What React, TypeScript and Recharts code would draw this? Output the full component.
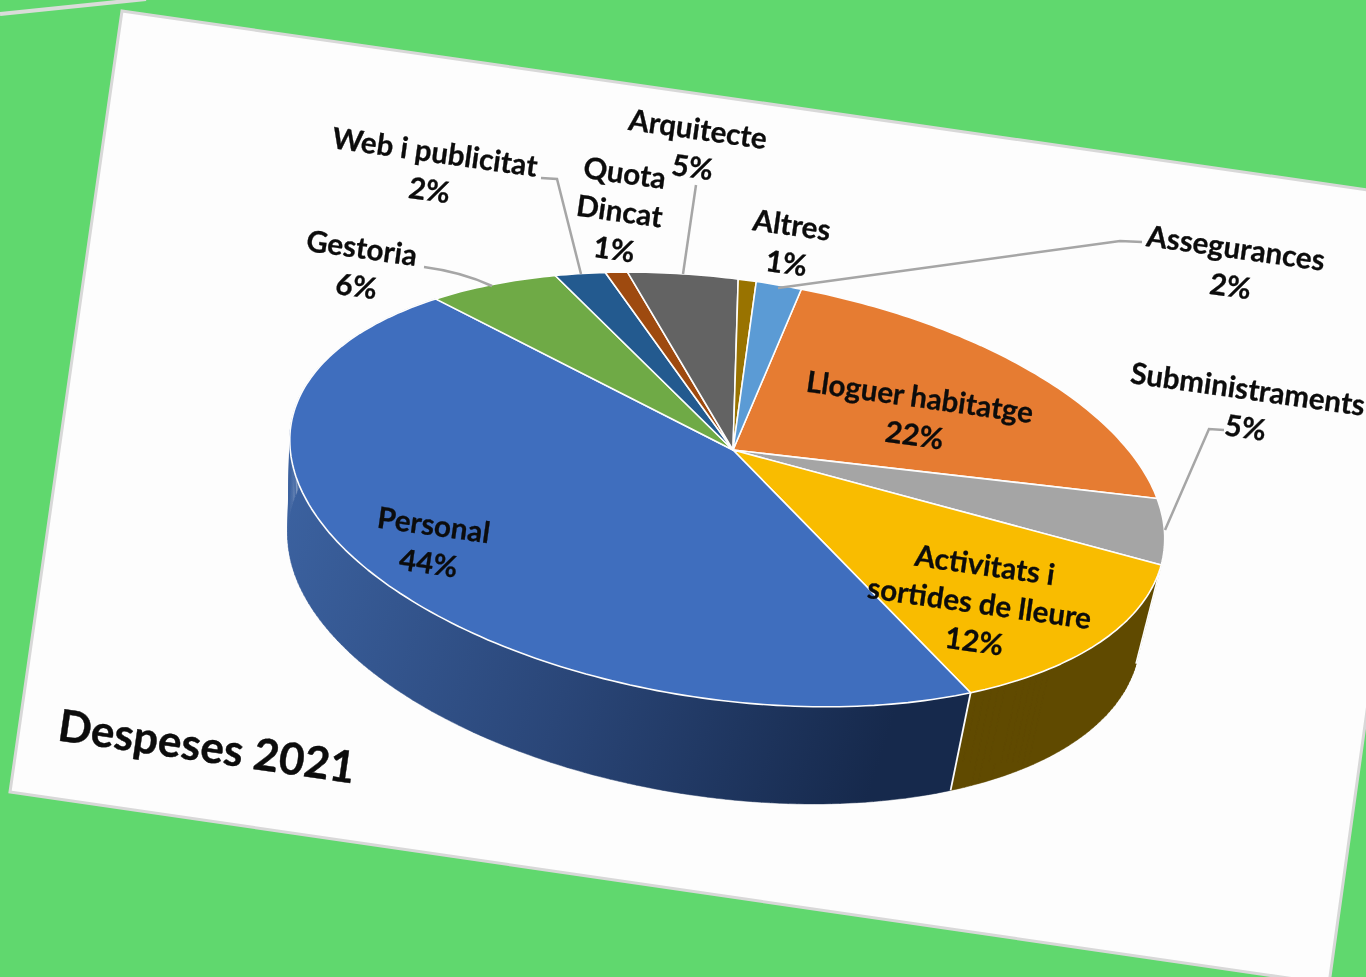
import { PieChart, Pie } from 'recharts';

const categories = ['Lloguer habitatge', 'Subministraments', 'Activitats i\nsortides de lleure', 'Personal', 'Gestoria', 'Web i publicitat', 'Quota\nDincat', 'Arquitecte', 'Altres', 'Assegurances'];
const values = [22, 5, 12.3, 43.7, 6, 2.3, 1, 4.9, 0.8, 2];
const colors = ['#E67C32', '#A5A5A5', '#F9BC00', '#3F6EBE', '#6FAA46', '#235A8F', '#9E4A0F', '#636363', '#997300', '#5B9BD5'];
const wallColors = ['', '', '#604A00', 'url(#wallBlue)', '', '', '', '', '', ''];

// first line centre of each label, same order as categories
const labelSpots = [[920, 396], [1248, 388], [985, 564], [434, 524], [362, 247], [435, 151], [625, 172], [698, 128], [792, 224], [1236, 247]];
const leaders: Record<string, string> = {
  Gestoria: 'M424 267 Q462 272 492 286',
  'Web i publicitat': 'M541 178 L557 179 L581 274',
  Arquitecte: 'M696 185 L683 274',
  Assegurances: 'M1142 242 L1120 241 L778 288',
  Subministraments: 'M1224 430 L1209 429 L1165 530',
};

const data = categories.map((name, i) => ({ name, value: values[i], fill: colors[i], wall: wallColors[i] }));

const APEX = [733, 450];
const TILT = (8.3 * Math.PI) / 180;
const SX = 433;
const SY = 202.4;
const K = 0.19;
const FONT = 'Lato, sans-serif';

// circle -> tilted plane with a bit of perspective
const project = (deg: number) => {
  const a = (deg * Math.PI) / 180;
  const u = Math.cos(a);
  const v = -Math.sin(a);
  const w = 1 - K * v;
  const x = (u * SX) / w;
  const y = (v * SY) / w;
  return [APEX[0] + x * Math.cos(TILT) - y * Math.sin(TILT), APEX[1] + x * Math.sin(TILT) + y * Math.cos(TILT)];
};

const lower = (p: number[]) => [p[0] - 2 - 0.0264 * (p[0] - 289), p[1] + 95 + 0.004 * (p[0] - 289)];

const arc = (start: number, end: number) => {
  const steps = Math.max(2, Math.ceil(Math.abs(end - start)));
  const pts = [];
  for (let i = 0; i <= steps; i++) pts.push(project(start + ((end - start) * i) / steps));
  return pts;
};

const toPath = (pts: number[][]) => pts.map((p, i) => `${i ? 'L' : 'M'}${p[0].toFixed(1)} ${p[1].toFixed(1)}`).join(' ');

const TopSlice = (props: any) => (
  <path d={`${toPath([APEX, ...arc(props.startAngle, props.endAngle)])} Z`} fill={props.fill} stroke="#fdfdfd" strokeWidth={1.6} strokeLinejoin="round" />
);

// one quad per step so the straight left silhouette gets filled too
const WallSlice = (props: any) => {
  if (!props.wall) return null;
  const top = arc(props.startAngle, props.endAngle);
  const quads = top.slice(1).map((p, i) => `${toPath([top[i], p, lower(p), lower(top[i])])} Z`).join(' ');
  return (
    <g>
      <path d={quads} fill={props.wall} stroke={props.wall} strokeWidth={0.5} />
      <path d={toPath([top[0], lower(top[0])])} fill="none" stroke="#fdfdfd" strokeWidth={1.8} />
    </g>
  );
};

const renderLabel = (props: any) => {
  const idx = categories.indexOf(props.name);
  const [x, y] = labelSpots[idx];
  const lines = [...props.name.split('\n'), `${Math.round(props.percent * 100)}%`];
  // the long name sits hard against the page edge, its percent stays put
  const nudge = props.name === 'Subministraments' ? 3 : 0;
  return (
    <g key={props.name}>
      {leaders[props.name] && <path d={leaders[props.name]} fill="none" stroke="#a6a6a6" strokeWidth={2.5} />}
      <g transform={`rotate(8 ${x} ${y})`}>
        {lines.map((line: string, i: number) => (
          <text key={i} x={x + (i ? nudge : 0)} y={y + i * 38.5} textAnchor="middle" dominantBaseline="central" fontFamily={FONT} fontWeight={700} fontSize={29.5} fill="#0c0c0c" stroke="#0c0c0c" strokeWidth={0.3}>
            {line}
          </text>
        ))}
      </g>
    </g>
  );
};

export default function App() {
  return (
    <div style={{ position: 'absolute', left: 0, top: 0, width: 1366, height: 977, overflow: 'hidden', background: '#60D86E' }}>
      <div style={{ position: 'absolute', left: 0, top: 0, width: 1366, height: 977, filter: 'blur(0.5px)' }}>
        <svg width={1366} height={977} style={{ position: 'absolute', left: 0, top: 0 }}>
          <path d="M0 14 L146 -1" stroke="#d9dcd9" strokeWidth={4} fill="none" />
          <polygon points="122,11 1438,200 1329,984 10,792" fill="#fdfdfd" stroke="#d8d8d8" strokeWidth={3} />
          <text x={207} y={745} transform="rotate(8.3 207 745)" textAnchor="middle" dominantBaseline="central" fontFamily={FONT} fontWeight={700} fontSize={44} fill="#0c0c0c" stroke="#0c0c0c" strokeWidth={0.4}>
            Despeses 2021
          </text>
        </svg>
        <div style={{ position: 'absolute', left: 0, top: 0 }}>
          <PieChart width={1366} height={977} margin={{ top: 0, right: 0, bottom: 0, left: 0 }}>
            <defs>
              <linearGradient id="wallBlue" gradientUnits="userSpaceOnUse" x1="290" y1="500" x2="900" y2="700">
                <stop offset="0%" stopColor="#3B619F" />
                <stop offset="50%" stopColor="#2A4678" />
                <stop offset="100%" stopColor="#16294C" />
              </linearGradient>
            </defs>
            <Pie data={data} dataKey="value" nameKey="name" cx={733} cy={450} outerRadius={430} startAngle={83} endAngle={-277} shape={WallSlice} label={false} labelLine={false} isAnimationActive={false} />
            <Pie data={data} dataKey="value" nameKey="name" cx={733} cy={450} outerRadius={430} startAngle={83} endAngle={-277} shape={TopSlice} label={renderLabel} labelLine={false} isAnimationActive={false} />
          </PieChart>
        </div>
      </div>
    </div>
  );
}
